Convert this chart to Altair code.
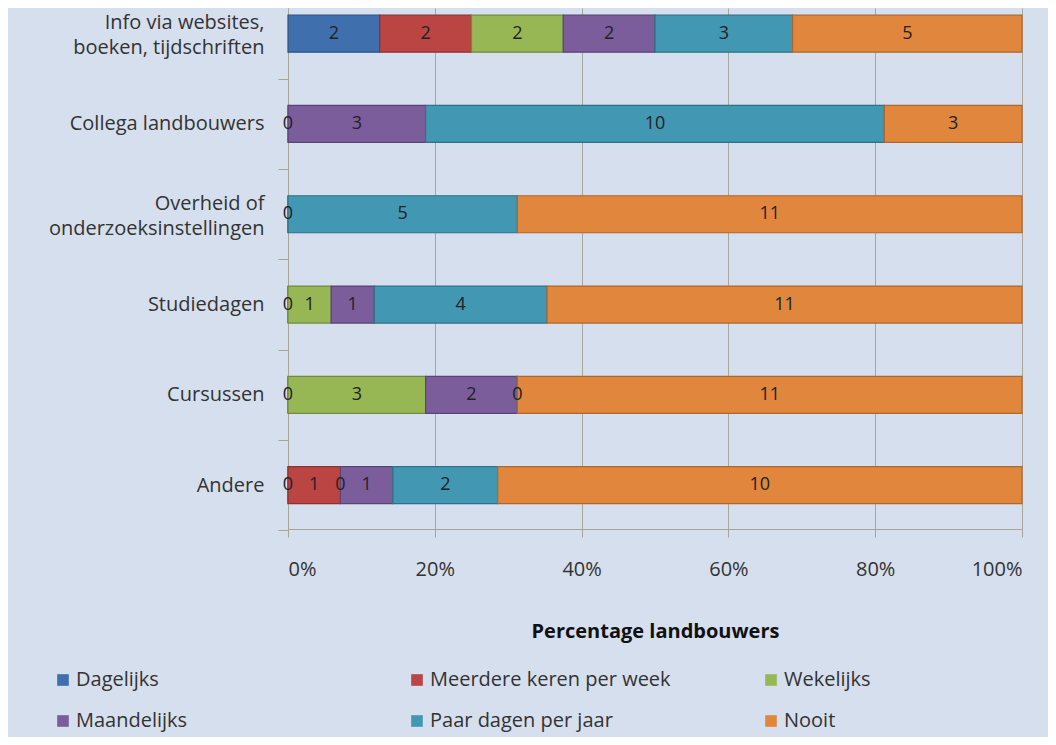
import altair as alt
import pandas as pd

sources = ["Info via websites,|boeken, tijdschriften", "Collega landbouwers",
           "Overheid of|onderzoeksinstellingen", "Studiedagen", "Cursussen", "Andere"]
categories = ["Dagelijks", "Meerdere keren per week", "Wekelijks",
              "Maandelijks", "Paar dagen per jaar", "Nooit"]
dagelijks = [2, None, None, None, None, 0]
meerdere = [2, None, None, 0, 0, 1]
wekelijks = [2, 0, None, 1, 3, 0]
maandelijks = [2, 3, 0, 1, 2, 1]
paar = [3, 10, 5, 4, 0, 2]
nooit = [5, 3, 11, 11, 11, 10]
colors = ["#3f70ad", "#bb4542", "#97b754", "#7b5d9c", "#4298b2", "#e0873d"]
strokes = ["#2d5487", "#8e3230", "#718a3e", "#5b4475", "#2f7288", "#b1662b"]

series = [dagelijks, meerdere, wekelijks, maandelijks, paar, nooit]
rows = []
for ci, (cat, vals) in enumerate(zip(categories, series)):
    for si, (src, v) in enumerate(zip(sources, vals)):
        if v is not None:
            rows.append({"source": src, "cat": cat, "order": ci, "count": v})
df = pd.DataFrame(rows)

FONT = "Open Sans"

base = alt.Chart(df).transform_stack(
    stack="count", groupby=["source"], as_=["x0", "x1"],
    offset="normalize", sort=[alt.SortField("order", order="ascending")]
).transform_calculate(mid="(datum.x0 + datum.x1) / 2")

y_enc = alt.Y("source:N", sort=sources, title=None,
              scale=alt.Scale(paddingInner=0.59, paddingOuter=0.18, align=0.22),
              axis=alt.Axis(labelExpr="split(datum.label, '|')", labelFontSize=20,
                            labelLineHeight=25, labelColor="#333333", labelPadding=14,
                            labelLimit=300,
                            labelOffset={"condition": {"test": "indexof(datum.value, '|') >= 0",
                                                       "value": -56}, "value": -45},
                            tickOffset=45, tickSize=10, tickColor="#a9a595",
                            domainColor="#a9a595", grid=False, labelFont=FONT))

bars = base.mark_bar(strokeWidth=1.2).encode(
    x=alt.X("x0:Q", scale=alt.Scale(domain=[0, 1], nice=False),
            title="Percentage landbouwers",
            axis=alt.Axis(format="%", values=[0, 0.2, 0.4, 0.6, 0.8, 1.0],
                          labelFontSize=20, labelColor="#333333", labelPadding=22,
                          tickSize=8, tickColor="#a9a595", domainColor="#a9a595",
                          gridColor="#a8a79f", gridWidth=1,
                          titleFontSize=20, titleFontWeight="bold", titleColor="#111111",
                          titlePadding=42, labelFont=FONT, titleFont=FONT)),
    x2="x1:Q",
    y=y_enc,
    color=alt.Color("cat:N", sort=categories,
                    scale=alt.Scale(domain=categories, range=colors), title=None,
                    legend=alt.Legend(orient="none", legendX=-235, legendY=662,
                                      columns=3, gridAlign="all", columnPadding=90,
                                      rowPadding=21, symbolType="square", symbolSize=135,
                                      symbolStrokeWidth=0, labelFontSize=20,
                                      labelColor="#333333", labelOffset=3, labelLimit=400,
                                      labelFont=FONT, direction="horizontal")),
    stroke=alt.Stroke("cat:N", sort=categories,
                      scale=alt.Scale(domain=categories, range=strokes), legend=None),
)

labels = base.mark_text(fontSize=18, color="#222222", font=FONT).encode(
    x=alt.X("mid:Q"),
    y=alt.Y("source:N", sort=sources),
    text=alt.Text("count:Q"),
)

chart = (bars + labels).properties(
    width=734, height=521,
    autosize=alt.AutoSizeParams(type="none"),
    padding={"left": 280, "top": 0, "right": 26, "bottom": 208},
    background="#d5dfee",
).configure_view(stroke=None, fill="#d5dfee")

chart.save("out.html", embed_options={"renderer": "svg", "actions": False})
